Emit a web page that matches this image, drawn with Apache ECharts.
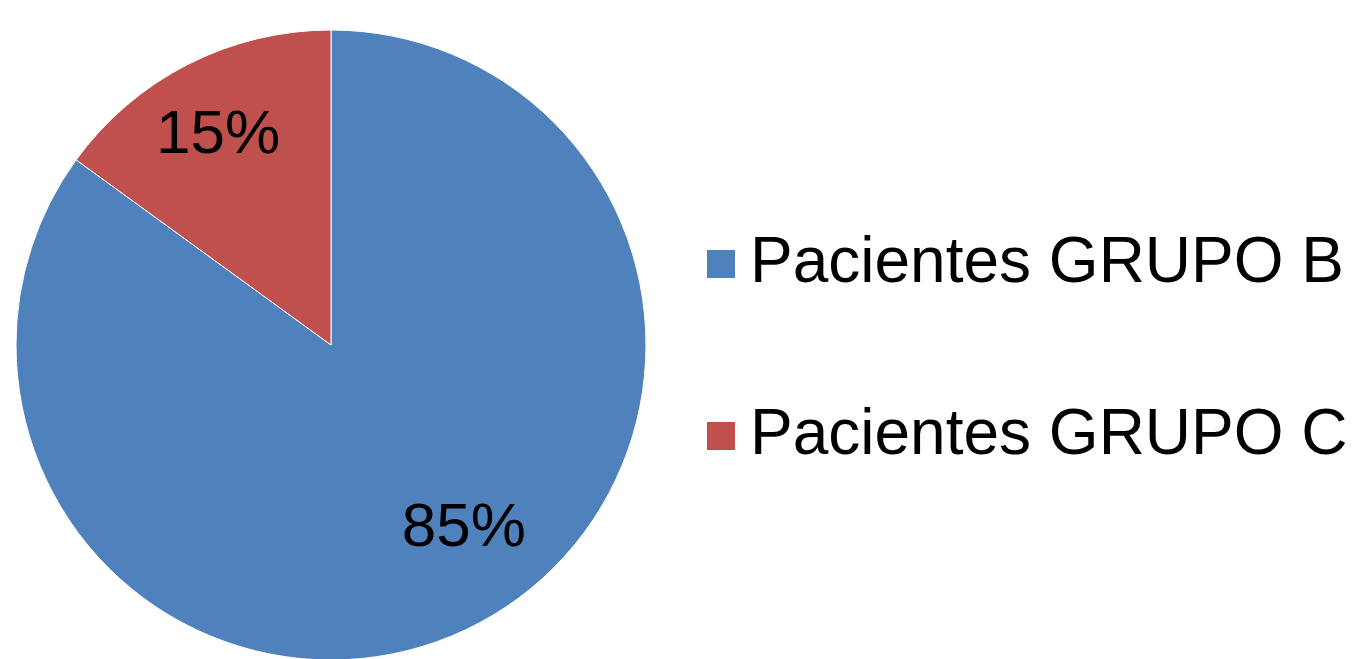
<!DOCTYPE html>
<html>
<head>
<meta charset="utf-8">
<script src="https://cdn.jsdelivr.net/npm/echarts@6/dist/echarts.min.js"></script>
<style>
html,body{margin:0;padding:0;background:#fff;}
#chart{width:1354px;height:659px;}
</style>
</head>
<body>
<div id="chart"></div>
<script>
const categories = ['Pacientes GRUPO B', 'Pacientes GRUPO C'];
const values = [85, 15];
const colors = ['#4F81BD', '#C0504D'];
const labelShift = [[60, 41], [-40, -66]];

const chart = echarts.init(document.getElementById('chart'));
chart.setOption({
  animation: false,
  backgroundColor: '#fff',
  legend: {
    orient: 'vertical',
    left: 705,
    top: 232,
    padding: 0,
    itemWidth: 30,
    itemHeight: 30,
    itemGap: 108,
    icon: 'rect',
    textStyle: {
      fontFamily: 'Liberation Sans, Arial, sans-serif',
      fontSize: 64,
      color: '#000',
      lineHeight: 62,
      padding: [0, 0, 0, 9]
    },
    data: categories
  },
  series: [{
    type: 'pie',
    center: [331, 345],
    radius: 315,
    startAngle: 90,
    clockwise: true,
    itemStyle: { borderColor: '#fff', borderWidth: 1 },
    label: {
      show: true,
      position: 'inside',
      formatter: '{c}%',
      fontFamily: 'Liberation Sans, Arial, sans-serif',
      fontSize: 62,
      color: '#000'
    },
    labelLine: { show: false },
    emphasis: { disabled: true },
    labelLayout: function (p) {
      return { dx: labelShift[p.dataIndex][0], dy: labelShift[p.dataIndex][1] };
    },
    data: categories.map((c, i) => ({ name: c, value: values[i], itemStyle: { color: colors[i] } }))
  }]
});
</script>
</body>
</html>
